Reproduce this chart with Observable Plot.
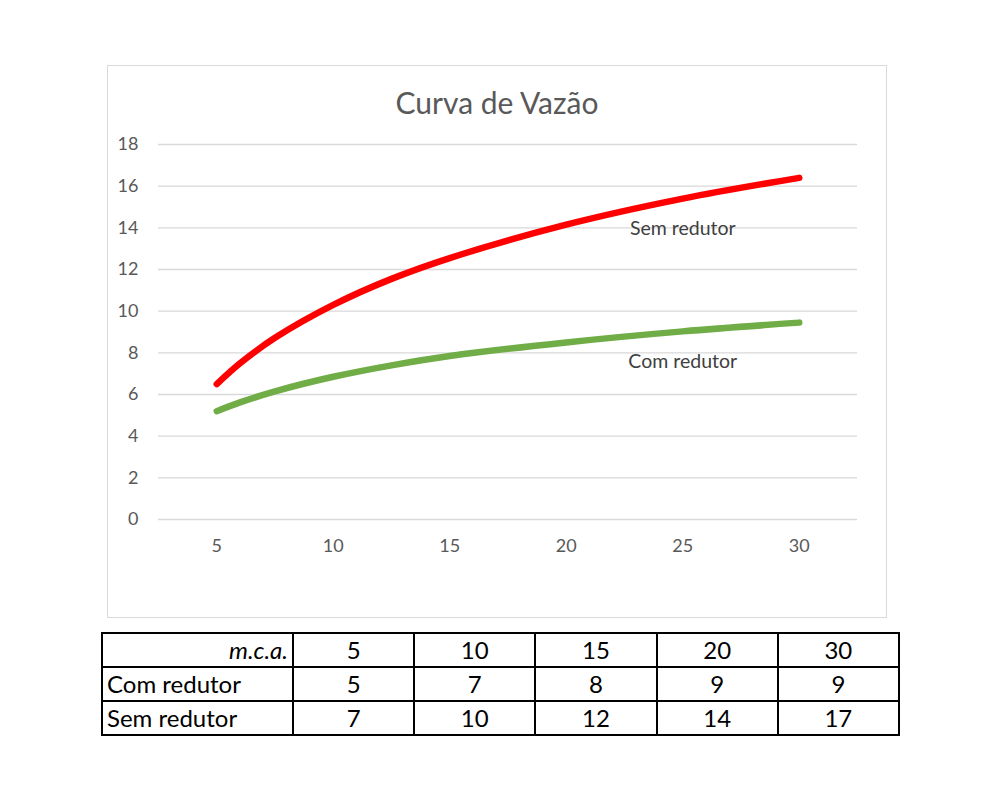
<!DOCTYPE html>
<html>
<head>
<meta charset="utf-8">
<script src="https://cdn.jsdelivr.net/npm/d3@7"></script>
<script src="https://cdn.jsdelivr.net/npm/@observablehq/plot@0.6"></script>
<style>
  html, body { margin: 0; padding: 0; background: #fff; }
  body { width: 1000px; height: 800px; position: relative; font-family: Lato, "Open Sans", sans-serif; overflow: hidden; }
  #frame { position: absolute; left: 107px; top: 65px; width: 778px; height: 551px; border: 1.5px solid #d9d9d9; }
  #title { position: absolute; left: 107px; width: 780px; top: 84px; text-align: center; font-size: 30px; color: #595959; }
  #chart { position: absolute; left: 0; top: 0; }
  table { position: absolute; left: 101px; top: 632px; width: 797px; border-collapse: collapse; table-layout: fixed; font-size: 24px; color: #000; }
  td { border: 2px solid #000; height: 32px; padding: 0 4px; line-height: 32px; text-align: center; overflow: hidden; white-space: nowrap; }
  td.lab { text-align: left; }
  td.hdr { text-align: right; font-style: italic; }
</style>
</head>
<body>
<div id="frame"></div>
<div id="chart"></div>
<div id="title">Curva de Vazão</div>
<table id="tbl">
  <colgroup><col style="width:191px"><col style="width:121.2px"><col style="width:121.2px"><col style="width:121.2px"><col style="width:121.2px"><col style="width:121.2px"></colgroup>
</table>
<script>
// Curve values
const pressao = [5, 6, 7.5, 10, 12.5, 15, 20, 25, 30];
const semRedutor = [6.5, 7.5, 8.72, 10.3, 11.55, 12.55, 14.15, 15.4, 16.4];
const comRedutor = [5.2, 5.62, 6.15, 6.85, 7.4, 7.85, 8.5, 9.03, 9.45];
const yTicks = [0, 2, 4, 6, 8, 10, 12, 14, 16, 18];
const xTicks = [5, 10, 15, 20, 25, 30];

// Table values
const tabelaHeader = "m.c.a.";
const tabelaMca = [5, 10, 15, 20, 30];
const tabelaCom = [5, 7, 8, 9, 9];
const tabelaSem = [7, 10, 12, 14, 17];

const semData = pressao.map((x, i) => ({x, y: semRedutor[i]}));
const comData = pressao.map((x, i) => ({x, y: comRedutor[i]}));
const labels = [
  {x: 25, y: 13.95, text: "Sem redutor"},
  {x: 25, y: 7.55, text: "Com redutor"}
];

const plot = Plot.plot({
  width: 1000,
  height: 620,
  marginLeft: 158,
  marginRight: 143,
  marginTop: 144,
  marginBottom: 101,
  style: {fontFamily: "Lato, 'Open Sans', sans-serif", fontSize: "18px", color: "#595959", background: "transparent"},
  x: {domain: [2.5, 32.5], ticks: xTicks, tickSize: 0, tickPadding: 20, label: null},
  y: {domain: [0, 18], ticks: yTicks, tickSize: 0, tickPadding: 20, label: null},
  marks: [
    Plot.ruleY(yTicks, {stroke: "#d9d9d9", strokeWidth: 1.3}),
    Plot.line(comData, {x: "x", y: "y", stroke: "#70ad47", strokeWidth: 6.5, curve: "catmull-rom", strokeLinecap: "round"}),
    Plot.line(semData, {x: "x", y: "y", stroke: "#ff0000", strokeWidth: 6.5, curve: "catmull-rom", strokeLinecap: "round"}),
    Plot.text(labels, {x: "x", y: "y", text: "text", fill: "#404040", fontSize: 19.5})
  ]
});
document.getElementById("chart").appendChild(plot);

const tbl = document.getElementById("tbl");
function row(label, vals, cls) {
  const tr = document.createElement("tr");
  const td0 = document.createElement("td");
  td0.className = "lab" + (cls ? " " + cls : "");
  td0.textContent = label;
  tr.appendChild(td0);
  vals.forEach(v => {
    const td = document.createElement("td");
    td.textContent = v;
    tr.appendChild(td);
  });
  tbl.appendChild(tr);
}
row(tabelaHeader, tabelaMca, "hdr");
row("Com redutor", tabelaCom);
row("Sem redutor", tabelaSem);
</script>
</body>
</html>
